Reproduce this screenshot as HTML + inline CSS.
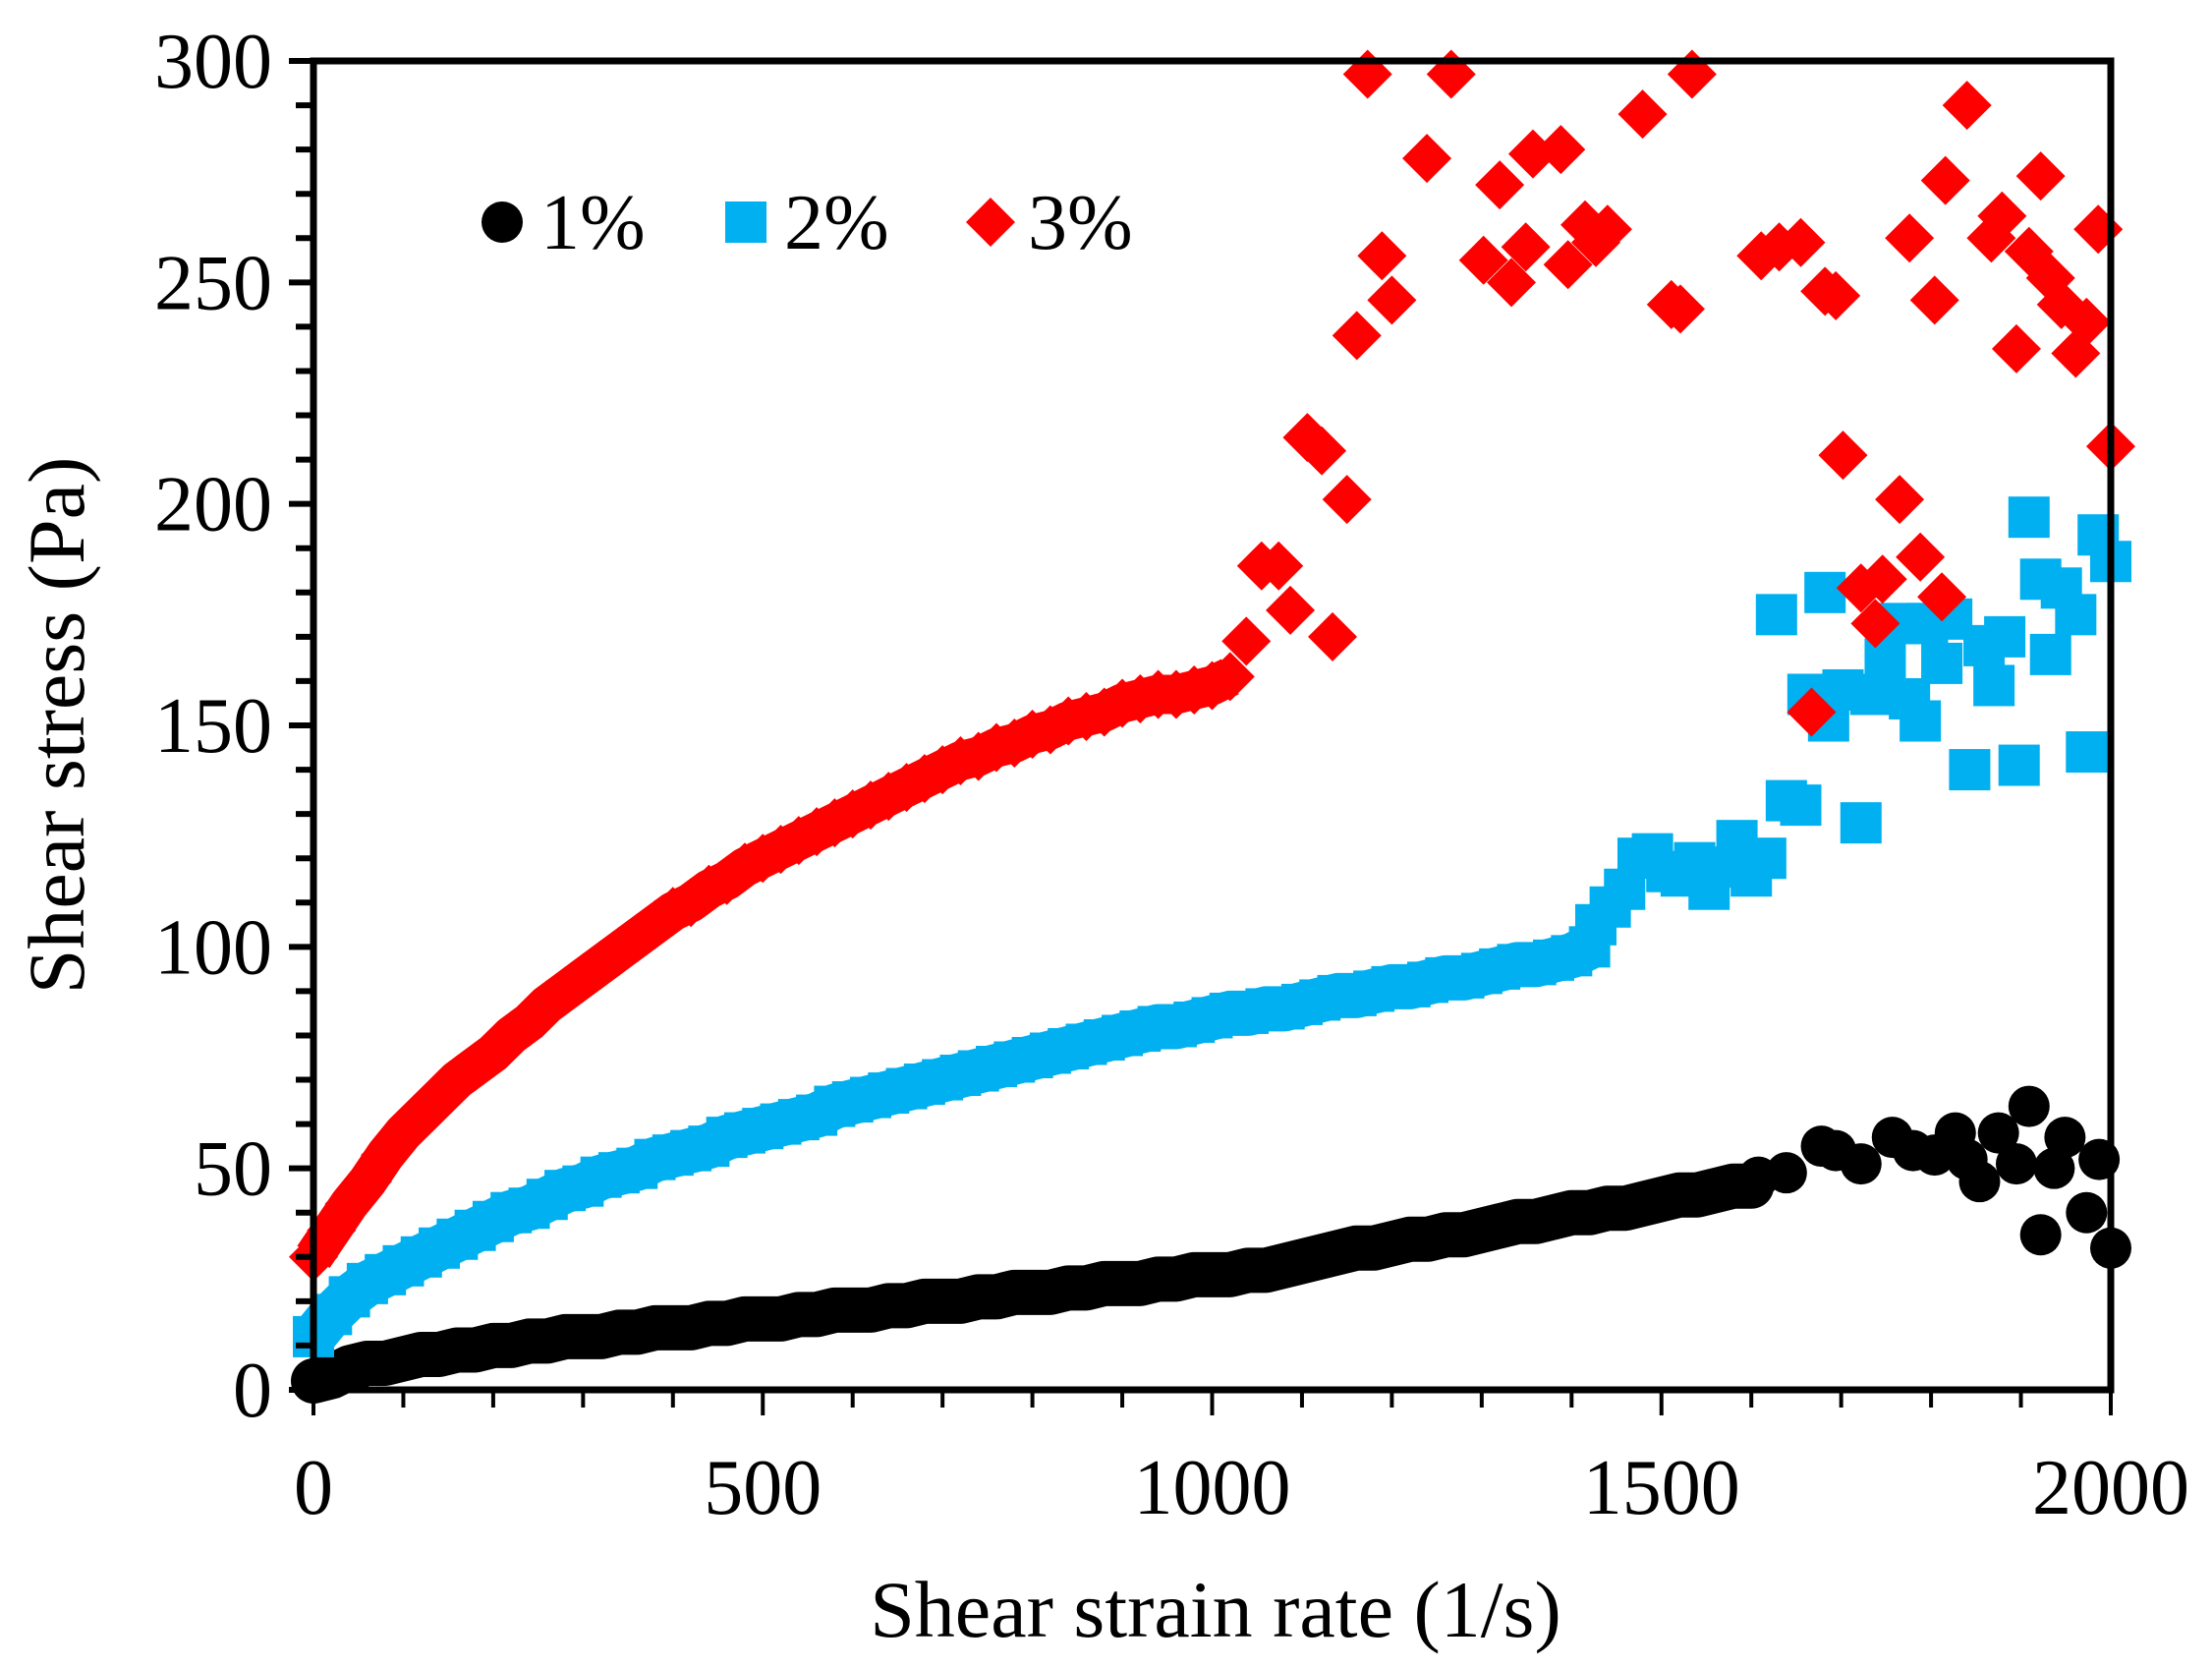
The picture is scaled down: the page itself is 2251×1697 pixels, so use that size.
<!DOCTYPE html>
<html><head><meta charset="utf-8"><style>
html,body{margin:0;padding:0;background:#fff;}
svg{display:block;}
text{font-family:"Liberation Serif",serif;fill:#000;}
</style></head><body>
<svg id="chart" width="2251" height="1697" viewBox="0 0 2251 1697" xmlns="http://www.w3.org/2000/svg">
<rect width="2251" height="1697" fill="#fff"/>
<g id="marks"></g>
<g id="axes"></g>
</svg>
<script>
// ---- data ----
const smoothStep = 20;
const red3Smooth = [30,36,42,47,53,58,62,66,70,73,76,80,83,87,90,93,96,99,102,105,108,110,113,115,118,120,122,124,126,128,130,132,134,136,138,140,142,143,145,146,148,149,151,152,153,155,156,157,157,158,159,161];
const red3ScatterX = [1038,1055,1074,1087,1106,1122,1134,1150,1161,1173,1189,1200,1239,1266,1302,1320,1333,1349,1357,1388,1396,1415,1427,1440,1479,1511,1521,1534,1611,1631,1655,1667,1682,1694,1702,1722,1738,1746,1765,1776,1788,1804,1816,1812,1840,1867,1879,1895,1909,1922,1933,1945,1961,1973,1986,2000];
const red3ScatterY = [169,186,186,176,215,212,170,201,238,297,256,246,278,297,255,272,250,258,279,280,254,263,259,262,288,245,244,297,256,258,259,153,248,247,211,181,173,183,201,260,188,246,273,179,290,260,265,235,257,274,251,245,234,241,262,213];
const blue2Smooth = [12,17,21,24,26,28,30,32,34,36,38,40,41,43,45,46,48,49,50,52,53,54,55,57,58,59,60,61,62,64,65,66,67,68,69,70,71,72,73,74,75,76,77,78,79,80,81,82,82,83,84,85,85,86,86,87,88,89,89,90,91,91,92,93,93,94,95,96,96,97,98,100];
const blue2ScatterX = [1427,1443,1459,1474,1490,1506,1522,1537,1553,1569,1584,1600,1616,1628,1639,1655,1663,1686,1682,1702,1722,1733,1749,1765,1776,1788,1796,1812,1823,1843,1859,1870,1882,1898,1909,1922,1933,1945,1961,1973,1986,2000];
const blue2ScatterY = [105,109,113,120,121,117,116,119,113,118,124,116,120,175,133,132,157,151,180,158,128,157,165,173,156,151,173,164,174,140,168,159,170,141,197,183,166,181,175,144,193,187];
const black1Smooth = [2,3,5,6,6,7,8,8,9,9,10,10,11,11,12,12,12,13,13,14,14,14,15,15,16,16,16,17,17,18,18,18,19,19,20,20,20,21,21,22,22,22,23,23,24,24,24,25,25,26,26,26,27,27,28,29,30,31,32,32,33,34,34,35,35,36,37,38,38,39,40,40,41,41,42,43,44,44,45,46,46];
const black1ScatterX = [1608,1639,1678,1694,1722,1757,1780,1804,1827,1840,1854,1875,1895,1909,1922,1937,1949,1973,1987,2000];
const black1ScatterY = [48,49,55,54,51,57,54,53,58,52,47,58,51,64,35,50,57,40,52,32];
const xTicks = [0,500,1000,1500,2000];
const yTicks = [0,50,100,150,200,250,300];

// ---- axes scales ----
const X0=319, X1=2148, Y0=1414, Y1=62;
const xs = v => X0 + (v/2000)*(X1-X0);
const ys = v => Y0 - (v/300)*(Y0-Y1);
const NS="http://www.w3.org/2000/svg";
const marks=document.getElementById('marks');
const axes=document.getElementById('axes');
function mk(tag,attrs,parent){const e=document.createElementNS(NS,tag);for(const k in attrs)e.setAttribute(k,attrs[k]);parent.appendChild(e);return e;}

function circle(x,y,g){const e=mk('circle',{cx:xs(x),cy:ys(y),r:21,fill:'#000'},g);

}
function square(x,y,g){const e=mk('rect',{x:xs(x)-21,y:ys(y)-21,width:42,height:42,fill:'#00b0f0'},g);

}
function diamond(x,y,g){const cx=xs(x),cy=ys(y),r=25;const e=mk('polygon',{points:`${cx},${cy-r} ${cx+r},${cy} ${cx},${cy+r} ${cx-r},${cy}`,fill:'#ff0000'},g);

}
function band(vals,color,w,cap,g,name){const pts=vals.map((v,i)=>xs(i*smoothStep)+','+ys(v)).join(' ');
const e=mk('polyline',{points:pts,fill:'none',stroke:color,'stroke-width':w,'stroke-linecap':cap,'stroke-linejoin':'round'},g);

}

const gBlack=mk('g',{},marks);


const gBlue=mk('g',{},marks);


const gRed=mk('g',{},marks);



band(black1Smooth,'#000',46,'round',gBlack,'band-1pct');
black1Smooth.forEach((v,i)=>circle(i*smoothStep,v,gBlack));
black1ScatterX.forEach((x,i)=>circle(x,black1ScatterY[i],gBlack));
band(blue2Smooth,'#00b0f0',46,'butt',gBlue,'band-2pct');
blue2Smooth.forEach((v,i)=>square(i*smoothStep,v,gBlue));
blue2ScatterX.forEach((x,i)=>square(x,blue2ScatterY[i],gBlue));
band(red3Smooth,'#ff0000',40,'butt',gRed,'band-3pct');
red3Smooth.forEach((v,i)=>diamond(i*smoothStep,v,gRed));
red3ScatterX.forEach((x,i)=>diamond(x,red3ScatterY[i],gRed));

// frame
const frame=mk('rect',{x:X0,y:Y1,width:X1-X0,height:Y0-Y1,fill:'none',stroke:'#000','stroke-width':7},axes);


for(let v=0;v<=300;v+=10){const major=v%50===0;const t=mk('line',{x1:X0-(major?25:18),x2:X0,y1:ys(v),y2:ys(v),stroke:'#000','stroke-width':6},axes);

}
for(let v=0;v<=2000;v+=100){const major=v%500===0;const t=mk('line',{x1:xs(v),x2:xs(v),y1:Y0,y2:Y0+(major?26:18),stroke:'#000','stroke-width':4},axes);

}
yTicks.forEach(v=>{const t=mk('text',{x:X0-42,y:ys(v)+27,'font-size':80,'text-anchor':'end'},axes);t.textContent=v;

});
xTicks.forEach(v=>{const t=mk('text',{x:xs(v),y:1540,'font-size':80,'text-anchor':'middle'},axes);t.textContent=v;

});
</script>
<svg style="position:absolute;left:0;top:0" width="2251" height="1697" xmlns="http://www.w3.org/2000/svg">
<text x="1237" y="1665" font-size="82" text-anchor="middle">Shear strain rate (1/s)</text>
<text transform="translate(85,738) rotate(-90)" font-size="82" text-anchor="middle">Shear stress (Pa)</text>
<g>
<circle cx="511" cy="226" r="21" fill="#000"/>
<text x="550" y="253" font-size="80">1%</text>
<rect x="738" y="205" width="42" height="42" fill="#00b0f0"/>
<text x="798" y="253" font-size="80">2%</text>
<polygon points="1008,201 1033,226 1008,251 983,226" fill="#ff0000"/>
<text x="1046" y="253" font-size="80">3%</text>
</g>
</svg>
</body></html>
